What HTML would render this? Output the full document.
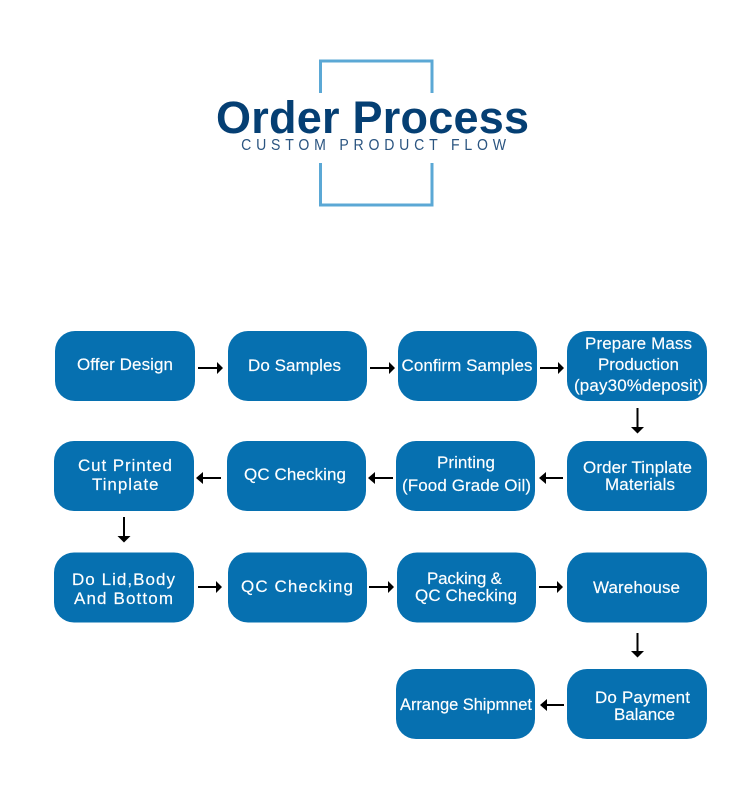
<!DOCTYPE html>
<html>
<head>
<meta charset="utf-8">
<style>
html,body{margin:0;padding:0;background:#fff;}
svg{display:block;}
text{font-family:"Liberation Sans",Arial,sans-serif;}
.b{fill:#0670B0;}
.t{fill:#fff;font-size:17px;stroke:#fff;stroke-width:.15;}
.a{stroke:#000;stroke-width:2;fill:none;}
.h{fill:#000;}
</style>
</head>
<body>
<svg width="750" height="801" viewBox="0 0 750 801" xmlns="http://www.w3.org/2000/svg">
<rect width="750" height="801" fill="#fff"/>
<path d="M320.500 93V61H432V93M320.500 163V205H432V163" fill="none" stroke="#5BA8D5" stroke-width="3"/>
<text x="216" y="133" font-size="45" font-weight="bold" fill="#053F73" textLength="313" lengthAdjust="spacing">Order Process</text>
<text transform="scale(.88,1)" x="274" y="150" font-size="16" fill="#2A5480" textLength="301" lengthAdjust="spacing">CUSTOM PRODUCT FLOW</text>

<rect class="b" x="55" y="331" width="140" height="70" rx="20"/>
<rect class="b" x="228" y="331" width="139" height="70" rx="20"/>
<rect class="b" x="398" y="331" width="139" height="70" rx="20"/>
<rect class="b" x="567" y="331" width="140" height="70" rx="20"/>
<rect class="b" x="54" y="441" width="140" height="70" rx="20"/>
<rect class="b" x="227" y="441" width="139" height="70" rx="20"/>
<rect class="b" x="396" y="441" width="139" height="70" rx="20"/>
<rect class="b" x="567" y="441" width="140" height="70" rx="20"/>
<rect class="b" x="54" y="552.500" width="140" height="70" rx="20"/>
<rect class="b" x="228" y="552.500" width="139" height="70" rx="20"/>
<rect class="b" x="397" y="552.500" width="139" height="70" rx="20"/>
<rect class="b" x="567" y="552.500" width="140" height="70" rx="20"/>
<rect class="b" x="396" y="669" width="139" height="70" rx="20"/>
<rect class="b" x="567" y="669" width="140" height="70" rx="20"/>

<text class="t" x="77" y="370" textLength="96" lengthAdjust="spacing">Offer Design</text>
<text class="t" x="248" y="371" textLength="93" lengthAdjust="spacing">Do Samples</text>
<text class="t" x="401.500" y="371" textLength="131" lengthAdjust="spacing">Confirm Samples</text>
<text class="t" x="585" y="349" textLength="107" lengthAdjust="spacing">Prepare Mass</text>
<text class="t" x="598" y="370" textLength="81" lengthAdjust="spacing">Production</text>
<text class="t" x="574" y="391" textLength="129.500" lengthAdjust="spacing">(pay30%deposit)</text>
<text class="t" x="78" y="471" textLength="94" lengthAdjust="spacing">Cut Printed</text>
<text class="t" x="92" y="490" textLength="66.500" lengthAdjust="spacing">Tinplate</text>
<text class="t" x="244" y="480" textLength="102" lengthAdjust="spacing">QC Checking</text>
<text class="t" x="437" y="468" textLength="58" lengthAdjust="spacing">Printing</text>
<text class="t" x="402" y="491" textLength="129" lengthAdjust="spacing">(Food Grade Oil)</text>
<text class="t" x="583" y="473" textLength="109" lengthAdjust="spacing">Order Tinplate</text>
<text class="t" x="605" y="490" textLength="70" lengthAdjust="spacing">Materials</text>
<text class="t" x="72" y="585" textLength="103" lengthAdjust="spacing">Do Lid,Body</text>
<text class="t" x="74" y="604" textLength="99" lengthAdjust="spacing">And Bottom</text>
<text class="t" x="241" y="592" textLength="112" lengthAdjust="spacing">QC Checking</text>
<text class="t" x="427" y="584" textLength="75" lengthAdjust="spacing">Packing&#160;&amp;</text>
<text class="t" x="415" y="601" textLength="102" lengthAdjust="spacing">QC Checking</text>
<text class="t" x="593" y="593" textLength="87" lengthAdjust="spacing">Warehouse</text>
<text class="t" x="400" y="710" style="font-size:16.500px" textLength="132" lengthAdjust="spacing">Arrange Shipmnet</text>
<text class="t" x="595" y="703" textLength="95" lengthAdjust="spacing">Do Payment</text>
<text class="t" x="614" y="720" textLength="61" lengthAdjust="spacing">Balance</text>

<path class="a" d="M198 368H218M370 368H390M540 368H558M198 587H217M369 587H389M539 587H557M221 478H201M393 478H374M563 478H545M564 705H546M637.500 408V428M124 517V537M637.500 633V652"/>
<path class="h" d="M217 362L223 368L217 374ZM389 362L395 368L389 374ZM558 362L564 368L558 374ZM216 581L222 587L216 593ZM388 581L394 587L388 593ZM557 581L563 587L557 593Z"/>
<path class="h" d="M203 472L196 478L203 484ZM375 472L368 478L375 484ZM546 472L539 478L546 484ZM547 699L540 705L547 711Z"/>
<path class="h" d="M631 427L637.500 433.500L644 427ZM117.500 536L124 542.500L130.500 536ZM631 651L637.500 657.500L644 651Z"/>
</svg>
</body>
</html>
